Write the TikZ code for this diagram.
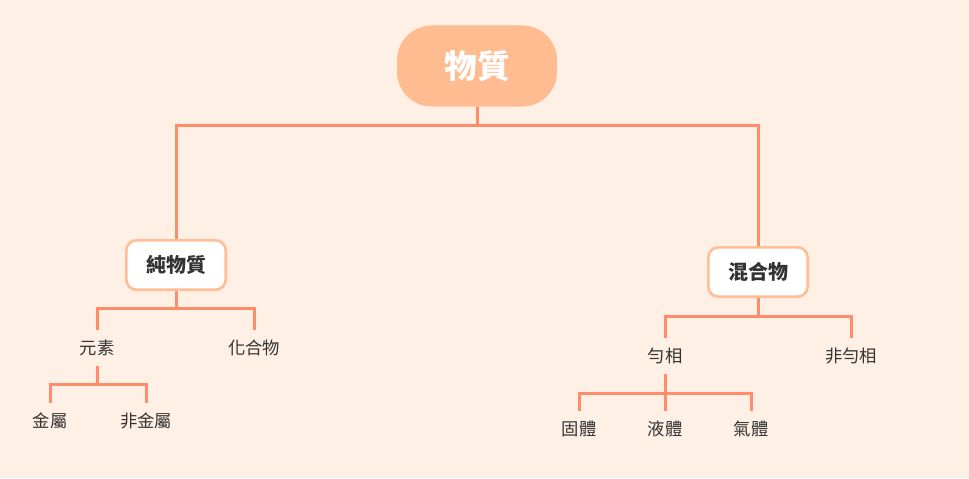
\documentclass[tikz,border=0pt]{standalone}
\usepackage{fontspec}
\setmainfont{Noto Sans CJK TC}
\definecolor{bg}{HTML}{FFF0E5}
\definecolor{rootfill}{HTML}{FFBC91}
\definecolor{boxborder}{HTML}{FFBE96}
\definecolor{conncol}{HTML}{FF8C6B}
\definecolor{txt}{HTML}{333333}
\begin{document}
\begin{tikzpicture}[x=0.75pt,y=-0.75pt,
  rootnode/.style={fill=rootfill,text=white,font=\fontsize{24.5pt}{28pt}\selectfont\bfseries,
    minimum width=120pt,minimum height=60.75pt,rounded corners=26pt,inner sep=0pt},
  boxnode/.style={fill=white,draw=boxborder,line width=2pt,text=txt,
    font=\fontsize{15pt}{18pt}\selectfont\bfseries,
    minimum width=74.5pt,minimum height=37pt,rounded corners=7.5pt,inner sep=0pt},
  leaf/.style={text=txt,font=\fontsize{13pt}{15pt}\selectfont,minimum height=27pt,inner sep=0pt},
  conn/.style={draw=conncol,line width=2.25pt}]
\fill[bg] (0,0) rectangle (969,478);
\useasboundingbox (0,0) rectangle (969,478);
\node[rootnode] (root) at (477,66) {物質};
\node[boxnode] (pure) at (176,265) {純物質};
\node[boxnode] (mix) at (758,272) {混合物};
\node[leaf] (elem) at (97,348) {元素};
\node[leaf] (comp) at (254,348) {化合物};
\node[leaf] (metal) at (50,421) {金屬};
\node[leaf] (nonmetal) at (146,421) {非金屬};
\node[leaf] (homo) at (665,356) {勻相};
\node[leaf] (hetero) at (851,356) {非勻相};
\node[leaf] (solid) at (579,429) {固體};
\node[leaf] (liquid) at (665,429) {液體};
\node[leaf] (gas) at (751,429) {氣體};
% connectors
\draw[conn] (pure.north) |- (root.south |- 0,125) -- (root.south);
\draw[conn] (mix.north) |- (root.south |- 0,125);
\draw[conn] (elem.north) |- (pure.south |- 0,308) -| (comp.north);
\draw[conn] (pure.south) -- (pure.south |- 0,308);
\draw[conn] (metal.north) |- (elem.south |- 0,384) -| (nonmetal.north);
\draw[conn] (elem.south) -- (elem.south |- 0,384);
\draw[conn] (homo.north) |- (mix.south |- 0,316) -| (hetero.north);
\draw[conn] (mix.south) -- (mix.south |- 0,316);
\draw[conn] (solid.north) |- (homo.south |- 0,393) -| (gas.north);
\draw[conn] (homo.south) -- (liquid.north);
\end{tikzpicture}
\end{document}
